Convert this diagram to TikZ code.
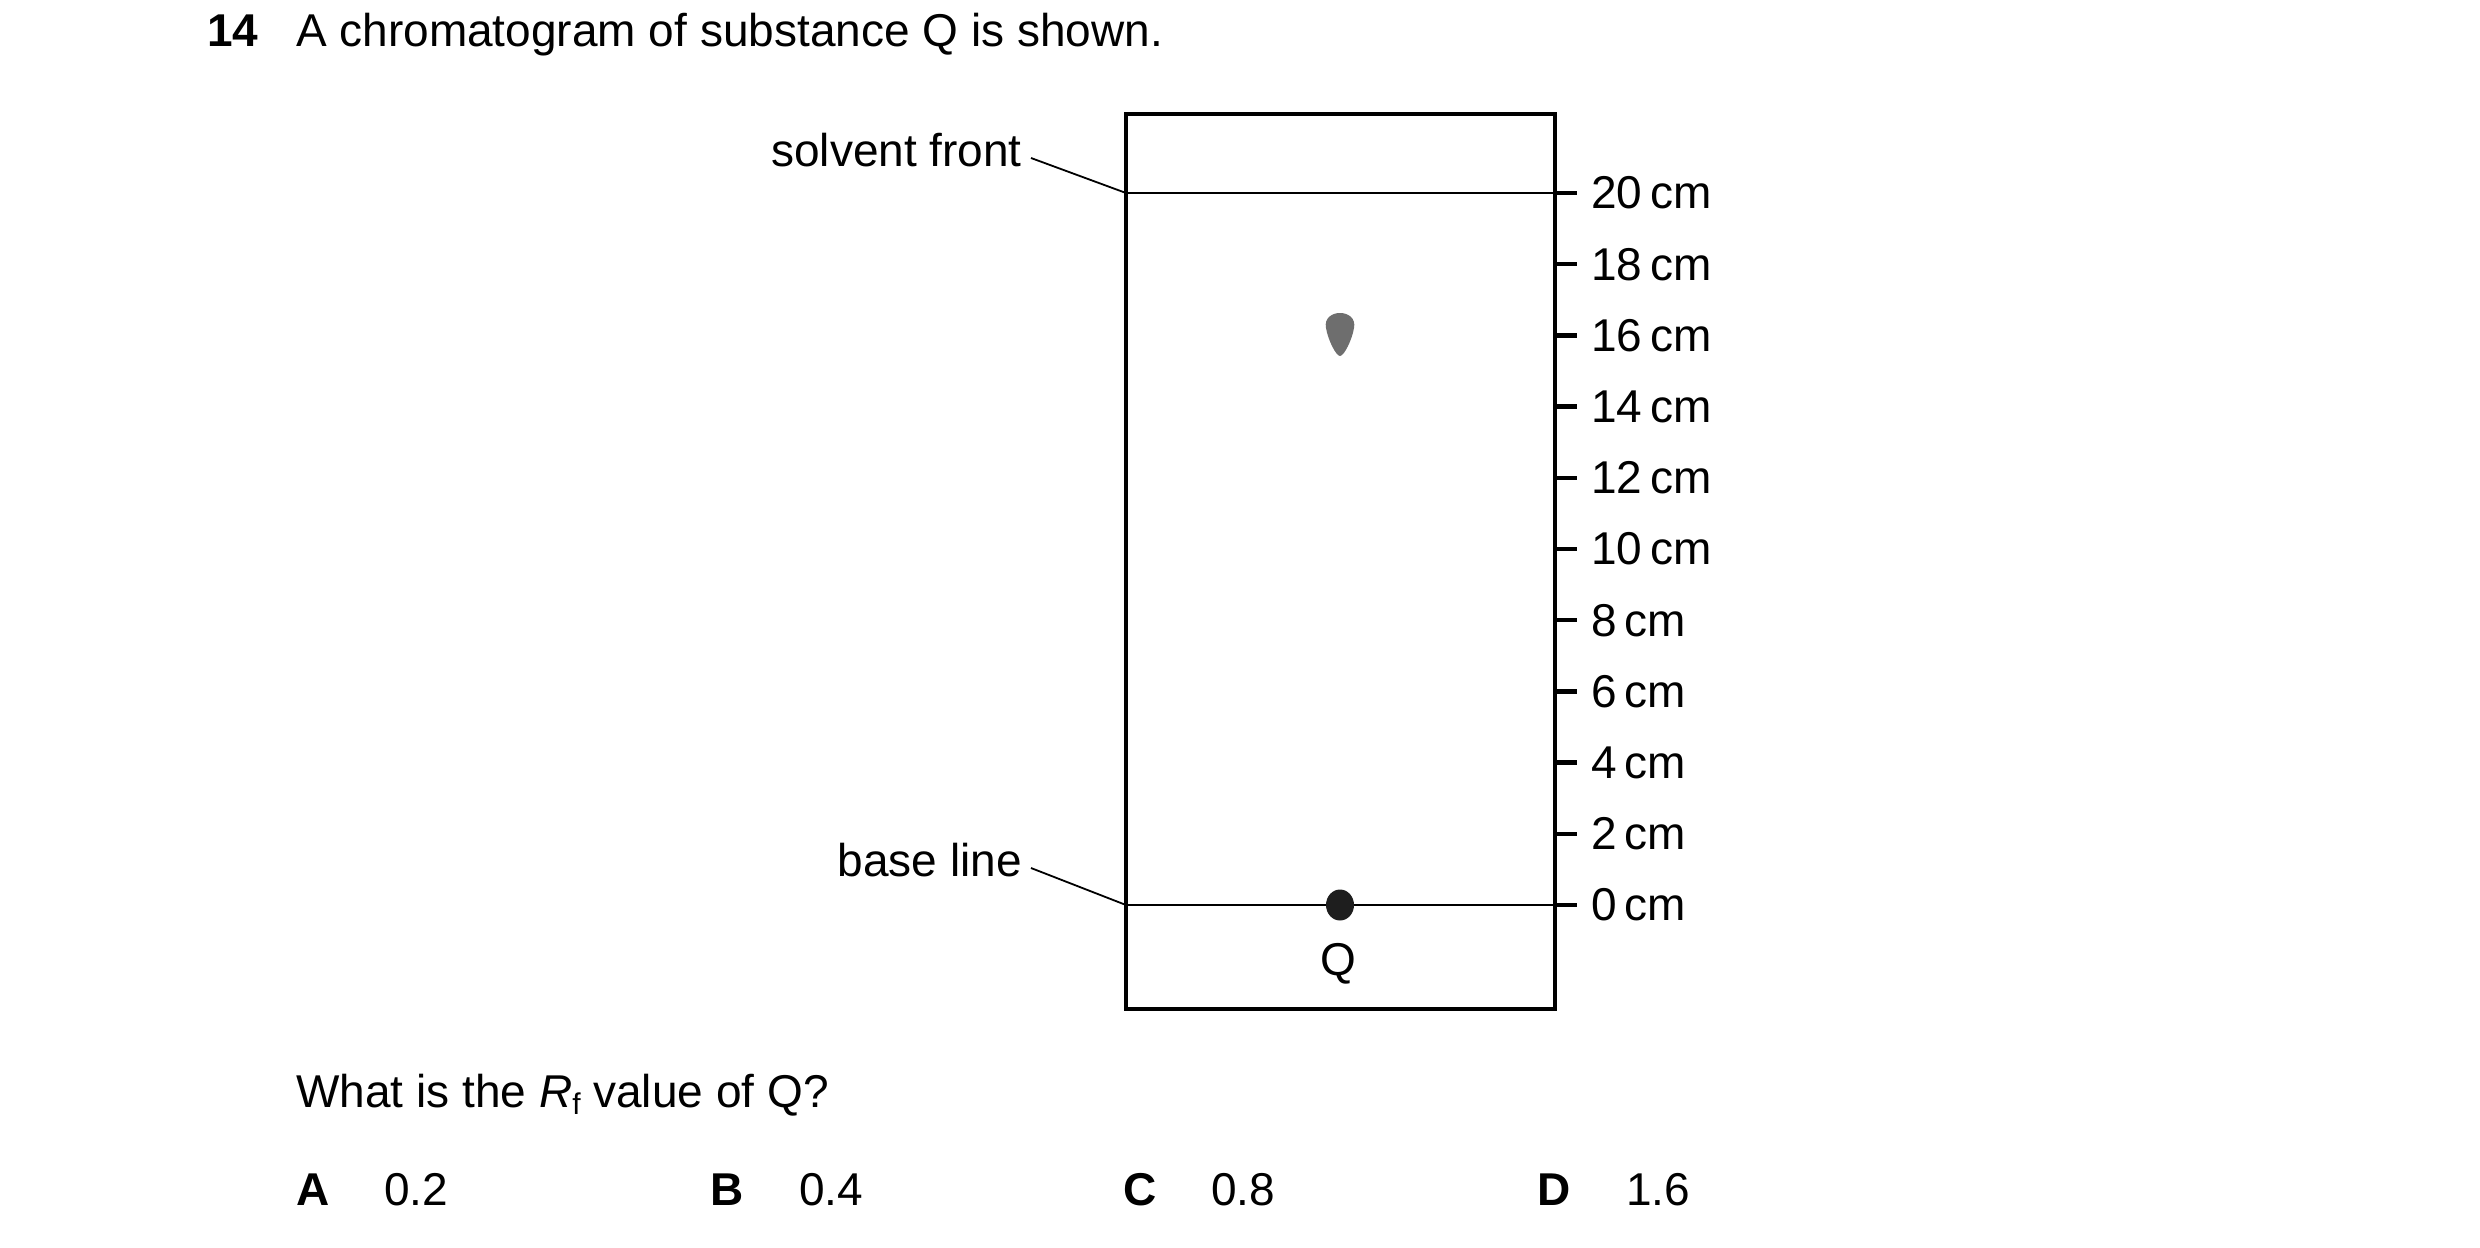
\documentclass[tikz,border=0pt]{standalone}
\usepackage{fontspec}
\setmainfont{Liberation Sans}
\usetikzlibrary{shapes.geometric}
\begin{document}
\begin{tikzpicture}[x=1pt,y=-1pt,
  txt/.style={inner sep=0pt,font=\fontsize{46}{54}\selectfont},
  frame/.style={line width=4.5pt},
  thin/.style={line width=2.2pt},
  tick/.style={line width=4.5pt}]
\useasboundingbox (0,0) rectangle (2480,1247);
% title
\node[txt,anchor=base west] (num) at (207,47) {\textbf{14}};
\node[txt,anchor=base west] (title) at (296,47) {A chromatogram of substance Q is shown.};
% paper
\draw[frame] (1126,114) rectangle (1555,1009);
\coordinate (sfL) at (1126,193);
\coordinate (sfR) at (1555,193);
\coordinate (blL) at (1126,905);
\coordinate (blR) at (1555,905);
\draw[thin] (sfL) -- (sfR);
\draw[thin] (blL) -- (blR);
% labels with leaders
\node[txt,anchor=east] (sf) at (1022,150) {solvent front};
\node[txt,anchor=east] (bl) at (1022,860) {base line};
\draw[line width=1.8pt] (sf.east) ++(9,8) -- (sfL);
\draw[line width=1.8pt] (bl.east) ++(9,8) -- (blL);
% scale
\foreach \v [count=\i from 0] in {0,2,4,6,8,10,12,14,16,18,20} {
  \coordinate (t\i) at (1555,{905-71.2*\i});
  \draw[tick] (t\i) -- ++(22,0);
  \node[txt,anchor=west] (l\i) at (1591,{905-71.2*\i}) {\v\,cm};
}
% spots
\fill[fill={rgb,255:red,110;green,110;blue,110}] (1340,356) .. controls (1336,356) and (1328,340) .. (1326,328) .. controls (1324,318) and (1332,313) .. (1340,313) .. controls (1348,313) and (1356,318) .. (1354,328) .. controls (1352,340) and (1344,356) .. (1340,356) -- cycle;
\node[ellipse,fill={rgb,255:red,30;green,30;blue,30},minimum width=28pt,minimum height=31pt,inner sep=0pt] (Qdot) at (1340,905) {};
\node[txt] (Q) at (1338,964) {Q};
% question
\node[txt,anchor=base west] (qq) at (296,1107) {What is the \textit{R}\raisebox{-0.3ex}{\fontsize{30}{32}\selectfont f} value of Q?};
\node[txt,anchor=base west] (A) at (296,1205) {\textbf{A}};
\node[txt,anchor=base west] (a) at (384,1205) {0.2};
\node[txt,anchor=base west] (B) at (710,1205) {\textbf{B}};
\node[txt,anchor=base west] (b) at (799,1205) {0.4};
\node[txt,anchor=base west] (C) at (1123,1205) {\textbf{C}};
\node[txt,anchor=base west] (c) at (1211,1205) {0.8};
\node[txt,anchor=base west] (D) at (1537,1205) {\textbf{D}};
\node[txt,anchor=base west] (d) at (1626,1205) {1.6};
\end{tikzpicture}
\end{document}
